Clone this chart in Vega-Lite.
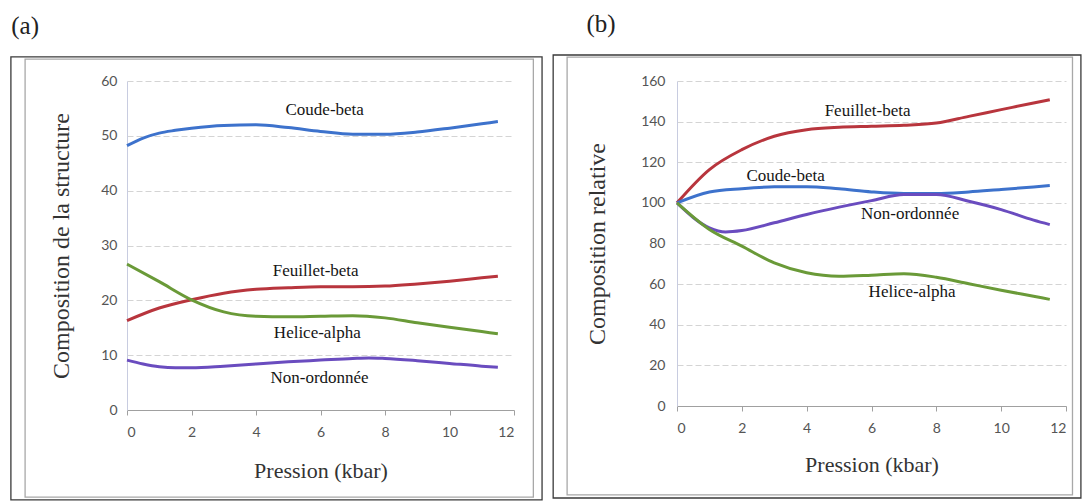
{
  "$schema": "https://vega.github.io/schema/vega-lite/v6.json",
  "padding": {"left": 10, "top": 12, "right": 0, "bottom": 0},
  "spacing": 9,
  "background": "white",
  "config": {
    "view": {"stroke": null},
    "axis": {
      "labelFont": "Lato", "labelFontSize": 14, "labelColor": "#555555",
      "titleFont": "Times New Roman, Liberation Serif, DejaVu Serif, serif", "titleFontSize": 24, "titleFontWeight": "normal", "titleColor": "#333333",
      "gridColor": "#d4d4d4", "gridDash": [6, 3], "domainColor": "#a0a0a0", "tickColor": "#a0a0a0"
    },
    "title": {"font": "Times New Roman, Liberation Serif, DejaVu Serif, serif", "fontSize": 25, "fontWeight": "normal", "color": "#222222", "anchor": "start"},
    "text": {"font": "Times New Roman, Liberation Serif, DejaVu Serif, serif"}
  },
  "datasets": {
    "a": [
      {"s": "Coude-beta", "p": 0, "v": 48.2}, {"s": "Coude-beta", "p": 0.5, "v": 49.6}, {"s": "Coude-beta", "p": 1, "v": 50.5}, {"s": "Coude-beta", "p": 1.5, "v": 51.0}, {"s": "Coude-beta", "p": 2, "v": 51.4}, {"s": "Coude-beta", "p": 3, "v": 51.9}, {"s": "Coude-beta", "p": 4, "v": 52.0}, {"s": "Coude-beta", "p": 5, "v": 51.5}, {"s": "Coude-beta", "p": 6, "v": 50.8}, {"s": "Coude-beta", "p": 7, "v": 50.3}, {"s": "Coude-beta", "p": 8, "v": 50.3}, {"s": "Coude-beta", "p": 9, "v": 50.7}, {"s": "Coude-beta", "p": 10, "v": 51.4}, {"s": "Coude-beta", "p": 11, "v": 52.2}, {"s": "Coude-beta", "p": 11.5, "v": 52.6},
      {"s": "Feuillet-beta", "p": 0, "v": 16.3}, {"s": "Feuillet-beta", "p": 1, "v": 18.6}, {"s": "Feuillet-beta", "p": 2, "v": 20.1}, {"s": "Feuillet-beta", "p": 3, "v": 21.3}, {"s": "Feuillet-beta", "p": 4, "v": 22.0}, {"s": "Feuillet-beta", "p": 5, "v": 22.3}, {"s": "Feuillet-beta", "p": 6, "v": 22.5}, {"s": "Feuillet-beta", "p": 7, "v": 22.5}, {"s": "Feuillet-beta", "p": 8, "v": 22.6}, {"s": "Feuillet-beta", "p": 9, "v": 23.0}, {"s": "Feuillet-beta", "p": 10, "v": 23.5}, {"s": "Feuillet-beta", "p": 11, "v": 24.1}, {"s": "Feuillet-beta", "p": 11.5, "v": 24.4},
      {"s": "Helice-alpha", "p": 0, "v": 26.6}, {"s": "Helice-alpha", "p": 1, "v": 23.4}, {"s": "Helice-alpha", "p": 2, "v": 20.1}, {"s": "Helice-alpha", "p": 3, "v": 17.9}, {"s": "Helice-alpha", "p": 4, "v": 17.1}, {"s": "Helice-alpha", "p": 5, "v": 17.0}, {"s": "Helice-alpha", "p": 6, "v": 17.1}, {"s": "Helice-alpha", "p": 7, "v": 17.2}, {"s": "Helice-alpha", "p": 8, "v": 16.8}, {"s": "Helice-alpha", "p": 9, "v": 15.9}, {"s": "Helice-alpha", "p": 10, "v": 15.1}, {"s": "Helice-alpha", "p": 11, "v": 14.3}, {"s": "Helice-alpha", "p": 11.5, "v": 13.9},
      {"s": "Non-ordonnée", "p": 0, "v": 9.1}, {"s": "Non-ordonnée", "p": 0.5, "v": 8.4}, {"s": "Non-ordonnée", "p": 1, "v": 7.9}, {"s": "Non-ordonnée", "p": 1.5, "v": 7.7}, {"s": "Non-ordonnée", "p": 2, "v": 7.7}, {"s": "Non-ordonnée", "p": 3, "v": 8.0}, {"s": "Non-ordonnée", "p": 4, "v": 8.4}, {"s": "Non-ordonnée", "p": 5, "v": 8.8}, {"s": "Non-ordonnée", "p": 6, "v": 9.1}, {"s": "Non-ordonnée", "p": 7, "v": 9.4}, {"s": "Non-ordonnée", "p": 7.5, "v": 9.5}, {"s": "Non-ordonnée", "p": 8, "v": 9.4}, {"s": "Non-ordonnée", "p": 9, "v": 9.0}, {"s": "Non-ordonnée", "p": 10, "v": 8.5}, {"s": "Non-ordonnée", "p": 11, "v": 8.0}, {"s": "Non-ordonnée", "p": 11.5, "v": 7.8}
    ],
    "b": [
      {"s": "Feuillet-beta", "p": 0, "v": 100}, {"s": "Feuillet-beta", "p": 1, "v": 116.4}, {"s": "Feuillet-beta", "p": 2, "v": 126.2}, {"s": "Feuillet-beta", "p": 3, "v": 132.8}, {"s": "Feuillet-beta", "p": 4, "v": 136.0}, {"s": "Feuillet-beta", "p": 5, "v": 137.2}, {"s": "Feuillet-beta", "p": 6, "v": 137.7}, {"s": "Feuillet-beta", "p": 7, "v": 138.2}, {"s": "Feuillet-beta", "p": 8, "v": 139.3}, {"s": "Feuillet-beta", "p": 9, "v": 142.6}, {"s": "Feuillet-beta", "p": 10, "v": 145.9}, {"s": "Feuillet-beta", "p": 11, "v": 149.2}, {"s": "Feuillet-beta", "p": 11.5, "v": 150.8},
      {"s": "Coude-beta", "p": 0, "v": 100}, {"s": "Coude-beta", "p": 1, "v": 105.4}, {"s": "Coude-beta", "p": 2, "v": 107.0}, {"s": "Coude-beta", "p": 3, "v": 107.9}, {"s": "Coude-beta", "p": 4, "v": 108.0}, {"s": "Coude-beta", "p": 5, "v": 106.9}, {"s": "Coude-beta", "p": 6, "v": 105.4}, {"s": "Coude-beta", "p": 7, "v": 104.6}, {"s": "Coude-beta", "p": 8, "v": 104.6}, {"s": "Coude-beta", "p": 9, "v": 105.4}, {"s": "Coude-beta", "p": 10, "v": 106.6}, {"s": "Coude-beta", "p": 11, "v": 107.8}, {"s": "Coude-beta", "p": 11.5, "v": 108.5},
      {"s": "Non-ordonnée", "p": 0, "v": 100}, {"s": "Non-ordonnée", "p": 1, "v": 87.7}, {"s": "Non-ordonnée", "p": 1.5, "v": 85.7}, {"s": "Non-ordonnée", "p": 2, "v": 86.4}, {"s": "Non-ordonnée", "p": 3, "v": 90.2}, {"s": "Non-ordonnée", "p": 4, "v": 94.3}, {"s": "Non-ordonnée", "p": 5, "v": 97.9}, {"s": "Non-ordonnée", "p": 6, "v": 101.1}, {"s": "Non-ordonnée", "p": 7, "v": 104.1}, {"s": "Non-ordonnée", "p": 8, "v": 104.1}, {"s": "Non-ordonnée", "p": 9, "v": 100.8}, {"s": "Non-ordonnée", "p": 10, "v": 96.7}, {"s": "Non-ordonnée", "p": 11, "v": 91.5}, {"s": "Non-ordonnée", "p": 11.5, "v": 89.3},
      {"s": "Helice-alpha", "p": 0, "v": 100}, {"s": "Helice-alpha", "p": 1, "v": 86.9}, {"s": "Helice-alpha", "p": 2, "v": 78.7}, {"s": "Helice-alpha", "p": 3, "v": 70.5}, {"s": "Helice-alpha", "p": 4, "v": 65.6}, {"s": "Helice-alpha", "p": 5, "v": 63.9}, {"s": "Helice-alpha", "p": 6, "v": 64.4}, {"s": "Helice-alpha", "p": 7, "v": 65.1}, {"s": "Helice-alpha", "p": 8, "v": 63.4}, {"s": "Helice-alpha", "p": 9, "v": 60.2}, {"s": "Helice-alpha", "p": 10, "v": 57.0}, {"s": "Helice-alpha", "p": 11, "v": 54.0}, {"s": "Helice-alpha", "p": 11.5, "v": 52.5}
    ],
    "la": [
      {"t": "Coude-beta", "p": 6.13, "v": 54.7},
      {"t": "Feuillet-beta", "p": 5.85, "v": 25.3},
      {"t": "Helice-alpha", "p": 5.9, "v": 14.1},
      {"t": "Non-ordonnée", "p": 5.97, "v": 5.8}
    ],
    "lb": [
      {"t": "Feuillet-beta", "p": 5.88, "v": 145.1},
      {"t": "Coude-beta", "p": 3.35, "v": 113.4},
      {"t": "Non-ordonnée", "p": 7.19, "v": 94.3},
      {"t": "Helice-alpha", "p": 7.25, "v": 56.2}
    ],
    "fa": [
      {"k": "outer", "p": -3.6, "p2": 12.87, "v": -16.4, "v2": 64.4},
      {"k": "inner", "p": -3.16, "p2": 12.6, "v": -15.9, "v2": 64.0}
    ],
    "fb": [
      {"k": "outer", "p": -3.82, "p2": 12.46, "v": -45.3, "v2": 172.8},
      {"k": "inner", "p": -3.39, "p2": 12.2, "v": -43.8, "v2": 171.8}
    ]
  },
  "hconcat": [
    {
      "width": 387,
      "height": 329,
      "title": {"text": "(a)", "offset": 17, "dx": 1},
      "encoding": {
        "x": {"field": "p", "type": "quantitative", "scale": {"domain": [0, 12], "nice": false},
              "axis": {"title": "Pression (kbar)", "titleFontSize": 22, "values": [0, 2, 4, 6, 8, 10, 12], "grid": false, "tickSize": 5, "labelPadding": 10, "titlePadding": 21}},
        "y": {"field": "v", "type": "quantitative", "scale": {"domain": [0, 60], "nice": false},
              "axis": {"title": "Composition de la structure", "values": [0, 10, 20, 30, 40, 50, 60], "grid": true, "ticks": false, "labelPadding": 10, "titlePadding": 27, "domainColor": "#c8cce0"}}
      },
      "layer": [
        {
          "data": {"name": "fa"},
          "mark": {"type": "rect", "filled": false, "strokeWidth": 1.3},
          "encoding": {
            "x2": {"field": "p2"},
            "y2": {"field": "v2"},
            "stroke": {"field": "k", "type": "nominal", "scale": {"domain": ["outer", "inner"], "range": ["#3a3a3a", "#a8a8a8"]}, "legend": null}
          }
        },
        {
          "data": {"name": "a"},
          "mark": {"type": "line", "interpolate": "monotone", "strokeWidth": 3},
          "encoding": {
            "color": {"field": "s", "type": "nominal",
                      "scale": {"domain": ["Coude-beta", "Feuillet-beta", "Helice-alpha", "Non-ordonnée"], "range": ["#3d72cc", "#b8353d", "#6a9a38", "#6a4cbf"]},
                      "legend": null}
          }
        },
        {
          "data": {"name": "la"},
          "mark": {"type": "text", "fontSize": 17, "color": "#151515", "align": "center", "baseline": "middle"},
          "encoding": {"text": {"field": "t"}}
        }
      ]
    },
    {
      "width": 389,
      "height": 325,
      "title": {"text": "(b)", "offset": 17, "dx": 34},
      "encoding": {
        "x": {"field": "p", "type": "quantitative", "scale": {"domain": [0, 12], "nice": false},
              "axis": {"title": "Pression (kbar)", "titleFontSize": 22, "values": [0, 2, 4, 6, 8, 10, 12], "grid": false, "tickSize": 5, "labelPadding": 10, "titlePadding": 19}},
        "y": {"field": "v", "type": "quantitative", "scale": {"domain": [0, 160], "nice": false},
              "axis": {"title": "Composition relative", "values": [0, 20, 40, 60, 80, 100, 120, 140, 160], "grid": true, "ticks": false, "labelPadding": 12, "titlePadding": 31, "domainColor": "#c8cce0"}}
      },
      "layer": [
        {
          "data": {"name": "fb"},
          "mark": {"type": "rect", "filled": false, "strokeWidth": 1.3},
          "encoding": {
            "x2": {"field": "p2"},
            "y2": {"field": "v2"},
            "stroke": {"field": "k", "type": "nominal", "scale": {"domain": ["outer", "inner"], "range": ["#3a3a3a", "#a8a8a8"]}, "legend": null}
          }
        },
        {
          "data": {"name": "b"},
          "mark": {"type": "line", "interpolate": "monotone", "strokeWidth": 3},
          "encoding": {
            "color": {"field": "s", "type": "nominal",
                      "scale": {"domain": ["Coude-beta", "Feuillet-beta", "Helice-alpha", "Non-ordonnée"], "range": ["#3d72cc", "#b8353d", "#6a9a38", "#6a4cbf"]},
                      "legend": null}
          }
        },
        {
          "data": {"name": "lb"},
          "mark": {"type": "text", "fontSize": 17, "color": "#151515", "align": "center", "baseline": "middle"},
          "encoding": {"text": {"field": "t"}}
        }
      ]
    }
  ]
}
